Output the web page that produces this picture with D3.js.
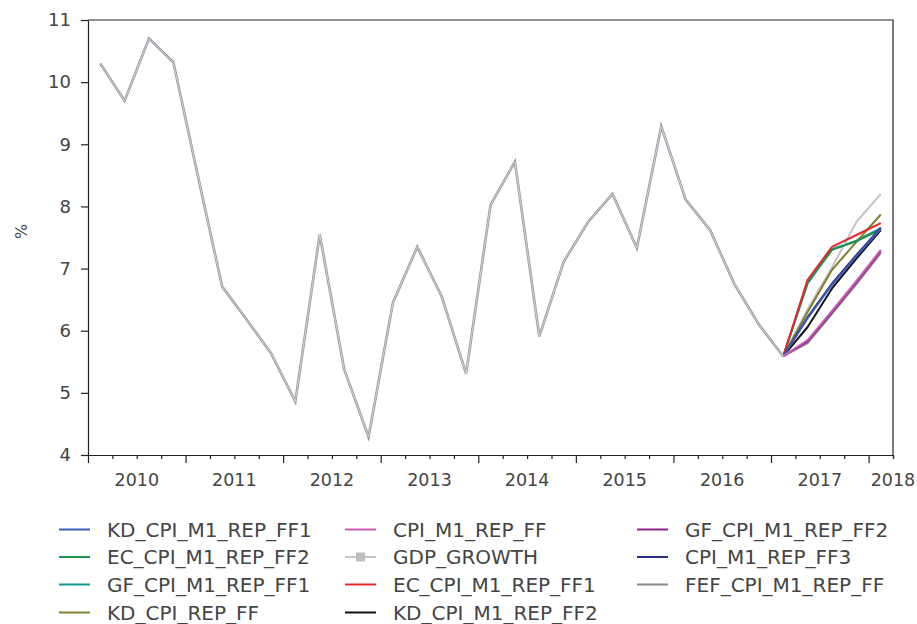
<!DOCTYPE html>
<html>
<head>
<meta charset="utf-8">
<script src="https://cdn.jsdelivr.net/npm/d3@7"></script>
<style>
  body { margin: 0; background: #fff; }
  text { font-family: "DejaVu Sans", sans-serif; fill: #444; }
</style>
</head>
<body>
<div id="chart"></div>
<script>
// Data
var histQuarters = ["2010Q1","2010Q2","2010Q3","2010Q4","2011Q1","2011Q2","2011Q3","2011Q4",
                    "2012Q1","2012Q2","2012Q3","2012Q4","2013Q1","2013Q2","2013Q3","2013Q4",
                    "2014Q1","2014Q2","2014Q3","2014Q4","2015Q1","2015Q2","2015Q3","2015Q4",
                    "2016Q1","2016Q2","2016Q3","2016Q4","2017Q1"];
var histValues = [10.3, 9.7, 10.7, 10.32, 8.5, 6.71, 6.18, 5.64,
                  4.86, 7.55, 5.38, 4.29, 6.45, 7.35, 6.55, 5.31,
                  8.02, 8.72, 5.91, 7.11, 7.75, 8.2, 7.33, 9.29,
                  8.11, 7.62, 6.75, 6.1, 5.59];
var fcQuarters = ["2017Q1", "2017Q2", "2017Q3", "2017Q4", "2018Q1"];

var KD_CPI_M1_REP_FF1  = [5.59, 6.2, 6.74, 7.2, 7.64];
var EC_CPI_M1_REP_FF2  = [5.59, 6.78, 7.3, 7.44, 7.63];
var GF_CPI_M1_REP_FF1  = [5.59, 6.76, 7.31, 7.45, 7.65];
var KD_CPI_REP_FF      = [5.59, 6.3, 6.98, 7.43, 7.87];
var CPI_M1_REP_FF      = [5.59, 5.85, 6.32, 6.8, 7.3];
var GDP_GROWTH         = [5.59, 6.35, 7.02, 7.75, 8.2];
var EC_CPI_M1_REP_FF1  = [5.59, 6.82, 7.35, 7.54, 7.73];
var KD_CPI_M1_REP_FF2  = [5.59, 6.06, 6.68, 7.16, 7.62];
var GF_CPI_M1_REP_FF2  = [5.59, 5.83, 6.3, 6.78, 7.28];
var CPI_M1_REP_FF3     = [5.59, 6.22, 6.76, 7.22, 7.66];
var FEF_CPI_M1_REP_FF  = [5.59, 5.8, 6.27, 6.75, 7.25];

var seriesNames = ["KD_CPI_M1_REP_FF1", "EC_CPI_M1_REP_FF2", "GF_CPI_M1_REP_FF1", "KD_CPI_REP_FF",
                   "CPI_M1_REP_FF", "GDP_GROWTH", "EC_CPI_M1_REP_FF1", "KD_CPI_M1_REP_FF2",
                   "GF_CPI_M1_REP_FF2", "CPI_M1_REP_FF3", "FEF_CPI_M1_REP_FF"];
var seriesValues = [KD_CPI_M1_REP_FF1, EC_CPI_M1_REP_FF2, GF_CPI_M1_REP_FF1, KD_CPI_REP_FF,
                    CPI_M1_REP_FF, GDP_GROWTH, EC_CPI_M1_REP_FF1, KD_CPI_M1_REP_FF2,
                    GF_CPI_M1_REP_FF2, CPI_M1_REP_FF3, FEF_CPI_M1_REP_FF];
var seriesColors = ["#3b5bb5", "#1f9150", "#0f9690", "#80802a",
                    "#c85ab4", "#c4c4c4", "#e8262a", "#111111",
                    "#8e238e", "#2b2f8a", "#8a8a8a"];
// order lines are painted in (last on top)
var drawOrder = ["GF_CPI_M1_REP_FF1", "GDP_GROWTH", "KD_CPI_REP_FF", "EC_CPI_M1_REP_FF2", "EC_CPI_M1_REP_FF1",
                 "CPI_M1_REP_FF3", "KD_CPI_M1_REP_FF2", "KD_CPI_M1_REP_FF1",
                 "FEF_CPI_M1_REP_FF", "GF_CPI_M1_REP_FF2", "CPI_M1_REP_FF"];

var yTicks = [4, 5, 6, 7, 8, 9, 10, 11];
var yearLabels = ["2010", "2011", "2012", "2013", "2014", "2015", "2016", "2017", "2018"];

// Plotting vars
var W = 917, H = 624;
var margin = {top: 20, right: 24, bottom: 169, left: 88},
    width = W - margin.left - margin.right,
    height = H - margin.top - margin.bottom;

var svg = d3.select("#chart")
  .append("svg")
    .attr("width", W)
    .attr("height", H);

var g = svg.append("g")
    .attr("transform", "translate(" + margin.left + "," + margin.top + ")");

// quarter string -> decimal year (mid quarter)
function qpos(q) {
    return +q.slice(0, 4) + (+q.slice(5) - 1) * 0.25 + 0.125;
}

var x = d3.scaleLinear()
    .domain([2010, 2018.25])
    .range([0, width]);

var y = d3.scaleLinear()
    .domain([4, 11])
    .range([height, 0]);

// frame (top + right)
g.append("path")
    .attr("d", "M0,0H" + width + "V" + height)
    .attr("fill", "none")
    .attr("stroke", "#222")
    .attr("stroke-width", 1.2);

// x axis: major ticks at year starts, minor at quarters
var majors = yearLabels.map(function(d) { return +d; });
var minors = [];
majors.forEach(function(yr) { [0.25, 0.5, 0.75].forEach(function(f) { if (yr + f <= 2018.25) minors.push(yr + f); }); });
minors.push(2018.25);

var xAxisMaj = g.append("g")
    .attr("transform", "translate(0," + height + ")")
    .call(d3.axisBottom(x).tickValues(majors).tickSize(8).tickFormat("").tickSizeOuter(0));
var xAxisMin = g.append("g")
    .attr("transform", "translate(0," + height + ")")
    .call(d3.axisBottom(x).tickValues(minors).tickSize(4).tickFormat("").tickSizeOuter(0));
[xAxisMaj, xAxisMin].forEach(function(a) {
    a.selectAll("line").attr("stroke", "#222").attr("stroke-width", 1.2);
    a.select(".domain").attr("stroke", "#222").attr("stroke-width", 1.2);
});

// year labels centred in each year, last one at the axis end
g.selectAll(".yearLabel")
    .data(yearLabels)
  .enter().append("text")
    .attr("class", "yearLabel")
    .attr("x", function(d) { return d == "2018" ? x(2018.25) : x(+d + 0.5); })
    .attr("y", height + 31)
    .attr("text-anchor", "middle")
    .style("font-size", "17.5px")
    .text(function(d) { return d; });

// y axis
var yAxis = g.append("g")
    .call(d3.axisLeft(y).tickValues(yTicks).tickFormat(d3.format("d"))
        .tickSize(7).tickSizeOuter(0).tickPadding(10));
yAxis.selectAll("line").attr("stroke", "#222").attr("stroke-width", 1.2);
yAxis.select(".domain").attr("stroke", "#222").attr("stroke-width", 1.2);
yAxis.selectAll("text")
    .style("font-size", "18px")
    .style("font-family", "DejaVu Sans, sans-serif")
    .attr("fill", "#444");

svg.append("text")
    .attr("transform", "translate(21," + (margin.top + y(7.6)) + ") rotate(-90)")
    .attr("text-anchor", "middle")
    .attr("dominant-baseline", "central")
    .style("font-size", "16px")
    .text("%");

// lines
var line = d3.line()
    .x(function(d) { return x(qpos(d.q)); })
    .y(function(d) { return y(d.v); });

var hist = histQuarters.map(function(q, i) { return {q: q, v: histValues[i]}; });

drawOrder.forEach(function(name) {
    var k = seriesNames.indexOf(name);
    var pts = fcQuarters.map(function(q, i) { return {q: q, v: seriesValues[k][i]}; });
    g.append("path")
        .datum(pts)
        .attr("fill", "none")
        .attr("stroke", seriesColors[k])
        .attr("stroke-width", 2)
        .attr("stroke-linejoin", "round")
        .attr("d", line);
});

// shared history (all series overlap here)
g.append("path")
    .datum(hist)
    .attr("fill", "none")
    .attr("stroke", "#9d95a0")
    .attr("stroke-width", 2.6)
    .attr("d", line);
g.append("path")
    .datum(hist)
    .attr("fill", "none")
    .attr("stroke", "#dcd8dc")
    .attr("stroke-width", 0.9)
    .attr("d", line);

// Legend, 3 columns filled top to bottom
var legCols = [59, 345, 637];
var legRows = [529.5, 557, 584.5, 612.5];
var perCol = 4;

var leg = svg.selectAll(".leg")
    .data(seriesNames)
  .enter().append("g")
    .attr("class", "leg")
    .attr("transform", function(d, i) {
        return "translate(" + legCols[Math.floor(i / perCol)] + "," + legRows[i % perCol] + ")";
    });

leg.append("line")
    .attr("x1", 0).attr("x2", 31)
    .attr("stroke", function(d, i) { return seriesColors[i]; })
    .attr("stroke-width", 2);

leg.filter(function(d) { return d == "GDP_GROWTH"; })
  .append("rect")
    .attr("x", 11).attr("y", -4.5)
    .attr("width", 9).attr("height", 9)
    .attr("fill", "#bdbdbd");

leg.append("text")
    .attr("x", 48)
    .attr("dy", "0.36em")
    .style("font-size", "20px")
    .text(function(d) { return d; });
</script>
</body>
</html>
